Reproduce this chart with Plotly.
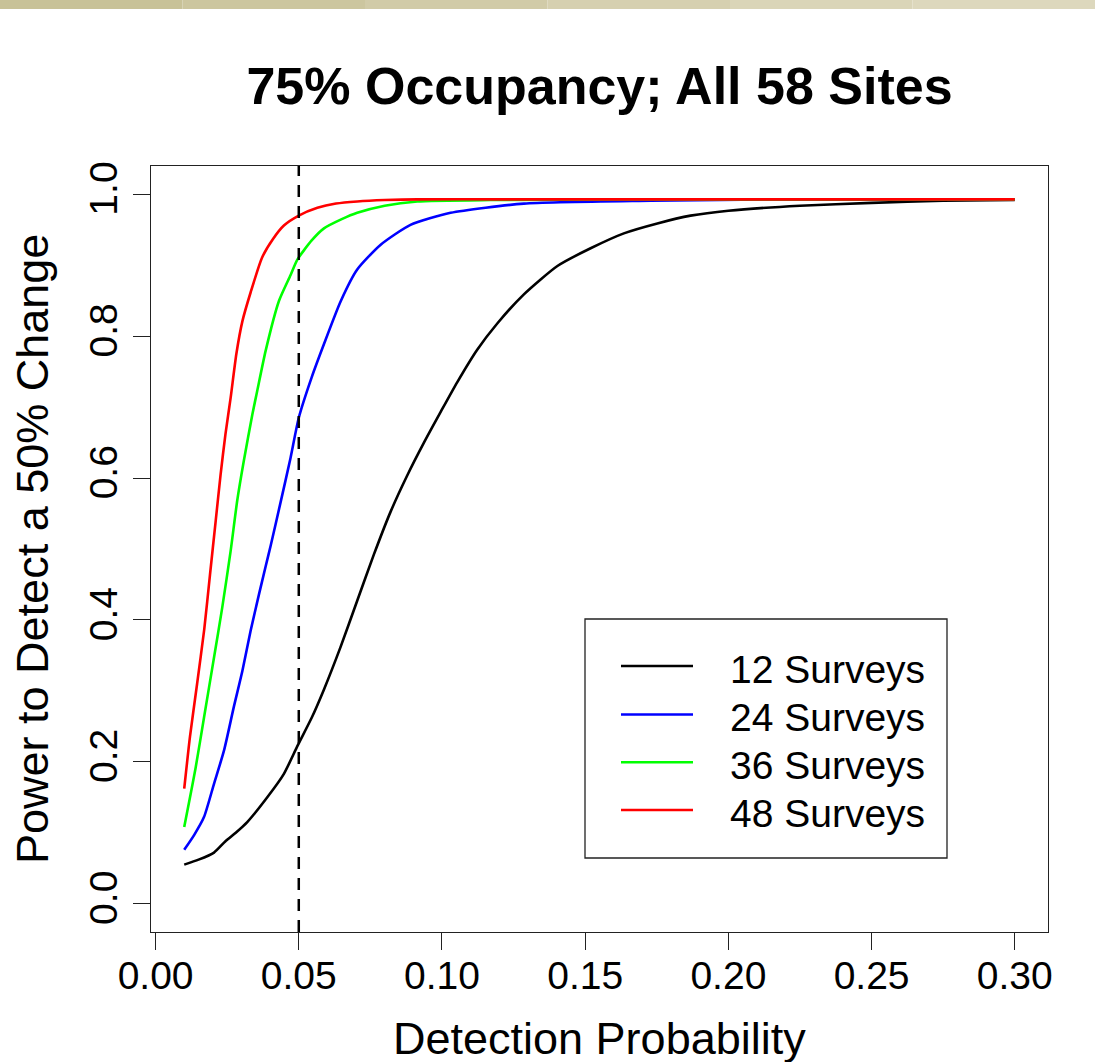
import plotly.graph_objects as go

# ---- data: power curves by number of surveys ----
x_12 = [0.010, 0.015, 0.0204, 0.0244, 0.028, 0.032, 0.039, 0.0448, 0.0495, 0.0545,
        0.0588, 0.0646, 0.0704, 0.0762, 0.082, 0.0879, 0.0937, 0.0995, 0.1053, 0.1123,
        0.1193, 0.1286, 0.1403, 0.1519, 0.1635, 0.1752, 0.1868, 0.200, 0.225, 0.250,
        0.275, 0.300]
y_12 = [0.055, 0.062, 0.072, 0.088, 0.100, 0.115, 0.150, 0.183, 0.222, 0.262,
        0.302, 0.362, 0.427, 0.492, 0.552, 0.604, 0.650, 0.693, 0.735, 0.781,
        0.818, 0.859, 0.899, 0.924, 0.945, 0.959, 0.970, 0.977, 0.984, 0.988,
        0.991, 0.992]

x_24 = [0.010, 0.0135, 0.0169, 0.0204, 0.0239, 0.0273, 0.0303, 0.0332, 0.0361, 0.0384,
        0.0402, 0.0436, 0.0471, 0.050, 0.0545, 0.0588, 0.0646, 0.0704, 0.0786, 0.089,
        0.103, 0.1286, 0.173, 0.220, 0.300]
y_24 = [0.076, 0.097, 0.122, 0.169, 0.216, 0.277, 0.328, 0.385, 0.436, 0.475,
        0.505, 0.565, 0.628, 0.685, 0.742, 0.789, 0.849, 0.894, 0.929, 0.957,
        0.974, 0.987, 0.991, 0.993, 0.993]

x_36 = [0.010, 0.014, 0.0169, 0.0204, 0.0233, 0.0262, 0.0285, 0.0308, 0.0338, 0.0355,
        0.0384, 0.0431, 0.0471, 0.0495, 0.0545, 0.0588, 0.065, 0.0704, 0.080, 0.0914,
        0.117, 0.200, 0.300]
y_36 = [0.108, 0.192, 0.262, 0.347, 0.418, 0.497, 0.568, 0.624, 0.690, 0.723,
        0.779, 0.850, 0.886, 0.908, 0.935, 0.952, 0.965, 0.974, 0.984, 0.990,
        0.992, 0.993, 0.993]

x_48 = [0.010, 0.012, 0.0145, 0.017, 0.019, 0.021, 0.0227, 0.0244, 0.0262, 0.0282,
        0.0303, 0.0332, 0.0372, 0.041, 0.0448, 0.050, 0.0565, 0.063, 0.0704, 0.080,
        0.0914, 0.120, 0.200, 0.300]
y_48 = [0.162, 0.235, 0.310, 0.387, 0.464, 0.540, 0.605, 0.662, 0.713, 0.775,
        0.821, 0.862, 0.911, 0.937, 0.956, 0.970, 0.981, 0.987, 0.990, 0.992,
        0.993, 0.993, 0.993, 0.993]

series_names = ["12 Surveys", "24 Surveys", "36 Surveys", "48 Surveys"]
series_x = [x_12, x_24, x_36, x_48]
series_y = [y_12, y_24, y_36, y_48]
series_colors = ["#000000", "#0000FF", "#00FF00", "#FF0000"]

reference_p = 0.05

x_ticks = [0.00, 0.05, 0.10, 0.15, 0.20, 0.25, 0.30]
y_ticks = [0.0, 0.2, 0.4, 0.6, 0.8, 1.0]

title_text = "75% Occupancy; All 58 Sites"
x_title = "Detection Probability"
y_title = "Power to Detect a 50% Change"

# ---- geometry (pixels) ----
W, H = 1095, 1062
ML, MR, MT, MB = 151, 47, 166, 130
PW, PH = W - ML - MR, H - MT - MB
FONT = "Liberation Sans, Arial, sans-serif"


def px_x(px):
    return (px - ML) / PW


def px_y(py):
    return (H - MB - py) / PH


fig = go.Figure()

for name, xs, ys, col in zip(series_names, series_x, series_y, series_colors):
    fig.add_trace(go.Scatter(x=xs, y=ys, mode="lines", name=name,
                             line=dict(color=col, width=2.6, shape="spline",
                                       smoothing=0.6),
                             showlegend=False))

# reference detection probability
fig.add_shape(type="line", xref="x", yref="paper", x0=reference_p, x1=reference_p,
              y0=0, y1=1, line=dict(color="black", width=2.5, dash="12px,9px"),
              layer="above")

# textured banner strip along the top edge
strip = ["#C8C298", "#CCC69F", "#D1CBA8", "#D6D0B0", "#DAD5B8", "#DDD8BD"]
n = len(strip)
for i, c in enumerate(strip):
    fig.add_shape(type="rect", xref="paper", yref="paper",
                  x0=px_x(i * W / n), x1=px_x((i + 1) * W / n),
                  y0=px_y(9), y1=px_y(0), fillcolor=c, line=dict(width=0),
                  layer="above")

# legend box
fig.add_shape(type="rect", xref="paper", yref="paper",
              x0=px_x(585), x1=px_x(947), y0=px_y(858), y1=px_y(619),
              line=dict(color="#222222", width=1.3), fillcolor="white", layer="above")
row_y = [666, 714.5, 762.3, 810]
annotations = []
for name, col, ry in zip(series_names, series_colors, row_y):
    fig.add_shape(type="line", xref="paper", yref="paper",
                  x0=px_x(621), x1=px_x(693), y0=px_y(ry), y1=px_y(ry),
                  line=dict(color=col, width=2.6), layer="above")
    annotations.append(dict(text=name, xref="paper", yref="paper",
                            x=px_x(927), y=px_y(ry + 3), xanchor="right",
                            yanchor="middle", showarrow=False,
                            font=dict(family=FONT, size=39, color="black")))

# axis titles
annotations.append(dict(text=x_title, xref="paper", yref="paper",
                        x=0.5, y=px_y(1038), xanchor="center", yanchor="middle",
                        showarrow=False, font=dict(family=FONT, size=45, color="black")))
annotations.append(dict(text=y_title, xref="paper", yref="paper",
                        x=px_x(32), y=0.5, xanchor="center", yanchor="middle",
                        textangle=-90, showarrow=False,
                        font=dict(family=FONT, size=45, color="black")))

axis_common = dict(showline=True, mirror=True, linecolor="#222222", linewidth=1.3,
                   ticks="outside", ticklen=17, tickwidth=1.3, tickcolor="#222222",
                   showgrid=False, zeroline=False, automargin=False,
                   tickfont=dict(family=FONT, size=39, color="black"))

fig.update_layout(
    width=W, height=H,
    margin=dict(l=ML, r=MR, t=MT, b=MB, pad=0),
    paper_bgcolor="white", plot_bgcolor="white",
    title=dict(text="<b>" + title_text + "</b>", x=0.5, xref="paper",
               y=1 - 86 / H, yref="container", yanchor="middle",
               font=dict(family=FONT, size=52, color="black")),
    xaxis=dict(range=[-0.0016, 0.3116], tickvals=x_ticks, tickformat=".2f",
               ticklabelstandoff=-8, **axis_common),
    yaxis=dict(range=[-0.04, 1.04], tickvals=y_ticks, tickformat=".1f",
               tickangle=-90, **axis_common),
    annotations=annotations,
)

fig.write_html("out.html")
